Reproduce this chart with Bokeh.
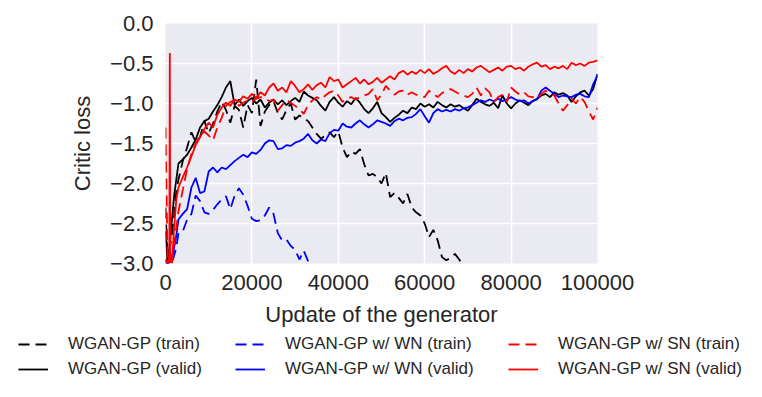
from bokeh.plotting import figure
from bokeh.layouts import column
from bokeh.models import Legend, LegendItem, FixedTicker, Range1d
from bokeh.embed import file_html
from bokeh.resources import INLINE

# ---------------- data ----------------
x_early = [0, 500, 1000, 1500, 2000, 2500, 3000]
x_early_sn_valid = [0, 500, 900, 1000, 1100, 1500, 2000, 2500, 3000]
x_main = list(range(4000, 100001, 1000))

wgan_train_early = [-2.3, -3.0, -2.8, -2.63, -2.4, -2.1, -1.95]
wgan_train_main = [
    -1.72, -1.55, -1.36, -1.48, -1.42, -1.22, -1.37, -1.25, -1.10, -0.98,
    -1.08, -1.24, -1.03, -1.08, -1.30, -1.02, -1.12, -0.70, -1.28, -1.10,
    -1.02, -0.97, -1.12, -1.20, -1.08, -1.00, -1.20, -1.15, -1.18, -1.22,
    -1.30, -1.38, -1.44, -1.40, -1.36, -1.42, -1.35, -1.55, -1.67, -1.60,
    -1.63, -1.57, -1.76, -1.90, -1.88, -1.92, -2.00, -1.87, -2.17, -2.12,
    -2.18, -2.25, -2.13, -2.30, -2.36, -2.40, -2.50, -2.67, -2.58, -2.71,
    -2.92, -2.96, -2.93, -2.88, -2.95, -3.05, -3.15, -3.20, -3.25]

wgan_valid_early = [-2.6, -3.0, -2.75, -2.45, -2.15, -1.95, -1.75]
wgan_valid_main = [
    -1.70, -1.64, -1.55, -1.45, -1.30, -1.22, -1.19, -1.10, -1.02, -0.92,
    -0.80, -0.72, -1.02, -0.95, -1.03, -0.97, -0.93, -1.00, -0.95, -1.05,
    -0.99, -0.95, -1.01, -0.96, -1.02, -0.97, -0.93, -0.98, -0.85, -0.90,
    -0.93, -0.96, -1.03, -1.09, -0.98, -0.92, -0.99, -1.04, -0.97, -1.01,
    -0.93, -0.99, -1.07, -1.12, -1.06, -0.98, -1.12, -1.17, -1.23, -1.18,
    -1.14, -1.09, -1.12, -1.05, -1.07, -1.00, -1.04, -1.01, -1.05, -0.98,
    -1.02, -1.05, -1.01, -1.04, -1.02, -1.06, -1.09, -1.02, -0.94, -0.98,
    -1.01, -1.03, -0.99, -1.06, -0.90, -1.00, -1.06, -1.00, -0.96, -0.99,
    -1.02, -0.97, -0.94, -0.90, -0.88, -0.92, -0.86, -0.89, -0.87, -0.90,
    -0.98, -0.91, -0.86, -0.84, -0.90, -0.82, -0.63]

wn_train_early = [-2.95, -3.05, -3.0, -2.98, -2.9, -2.8, -2.62]
wn_train_main = [
    -2.60, -2.45, -2.38, -2.15, -2.22, -2.36, -2.38, -2.33, -2.26, -2.20,
    -2.16, -2.32, -2.15, -2.06, -2.14, -2.28, -2.44, -2.47, -2.46, -2.40,
    -2.30, -2.38, -2.62, -2.71, -2.70, -2.78, -2.83, -2.95, -2.84, -2.97,
    -3.10, -3.20]

wn_valid_early = [-3.0, -3.02, -2.98, -2.95, -2.8, -2.65, -2.45]
wn_valid_main = [
    -2.38, -2.32, -2.05, -1.93, -2.12, -2.10, -1.85, -1.80, -1.86, -1.80,
    -1.82, -1.77, -1.72, -1.68, -1.64, -1.67, -1.61, -1.63, -1.58, -1.50,
    -1.46, -1.47, -1.57, -1.56, -1.52, -1.53, -1.49, -1.47, -1.44, -1.38,
    -1.46, -1.50, -1.45, -1.47, -1.37, -1.33, -1.34, -1.25, -1.29, -1.30,
    -1.25, -1.21, -1.26, -1.30, -1.26, -1.21, -1.23, -1.25, -1.28, -1.22,
    -1.19, -1.21, -1.18, -1.17, -1.13, -1.07, -1.16, -1.24, -1.12, -1.07,
    -1.10, -1.08, -1.10, -1.07, -1.09, -1.06, -1.05, -1.02, -0.99, -0.96,
    -0.98, -0.95, -0.97, -0.94, -0.97, -0.95, -0.92, -0.95, -0.97, -0.96,
    -1.00, -0.97, -0.95, -0.84, -0.80, -0.84, -0.88, -0.92, -0.90, -0.91,
    -0.92, -0.89, -0.88, -0.91, -0.92, -0.76, -0.65]

sn_train_early = [-1.30, -3.0, -2.95, -2.9, -2.75, -2.55, -2.35]
sn_train_main = [
    -2.08, -1.82, -1.63, -1.50, -1.40, -1.35, -1.40, -1.46, -1.30, -1.18,
    -1.03, -0.98, -0.96, -1.03, -0.99, -0.96, -0.98, -0.94, -0.92, -0.93,
    -0.97, -0.95, -1.09, -1.02, -0.96, -0.99, -1.03, -1.07, -1.13, -1.02,
    -0.96, -0.92, -0.95, -0.90, -0.86, -0.84, -0.90, -0.98, -0.94, -0.92,
    -0.95, -0.92, -0.90, -0.88, -0.82, -0.96, -0.89, -0.78, -0.84, -0.89,
    -0.85, -0.84, -0.89, -0.86, -0.89, -0.91, -0.92, -0.84, -0.88, -0.92,
    -0.87, -0.84, -0.82, -0.85, -0.88, -0.90, -0.92, -0.88, -0.80, -0.90,
    -0.81, -0.86, -0.98, -0.92, -0.89, -0.98, -0.80, -0.85, -0.89, -0.86,
    -0.91, -0.92, -0.94, -0.88, -0.84, -0.87, -0.90, -1.00, -1.09, -1.02,
    -0.94, -1.00, -0.92, -0.98, -1.10, -1.20, -1.05]

sn_valid_early = [-2.95, -3.0, -2.9, -0.37, -2.95, -3.0, -2.55, -2.2, -2.05]
sn_valid_main = [
    -1.92, -1.80, -1.66, -1.52, -1.42, -1.32, -1.24, -1.30, -1.14, -1.05,
    -0.99, -1.03, -0.95, -0.98, -0.91, -0.94, -0.88, -0.93, -0.86, -0.90,
    -0.80, -0.75, -0.84, -0.80, -0.86, -0.72, -0.78, -0.86, -0.82, -0.76,
    -0.83, -0.77, -0.74, -0.80, -0.67, -0.72, -0.70, -0.80, -0.76, -0.72,
    -0.68, -0.75, -0.70, -0.76, -0.73, -0.68, -0.74, -0.70, -0.66, -0.70,
    -0.62, -0.59, -0.64, -0.60, -0.63, -0.58, -0.62, -0.57, -0.63, -0.60,
    -0.56, -0.53, -0.60, -0.63, -0.58, -0.62, -0.57, -0.60, -0.55, -0.53,
    -0.57, -0.61, -0.58, -0.55, -0.59, -0.54, -0.53, -0.57, -0.55, -0.59,
    -0.54, -0.51, -0.49, -0.54, -0.52, -0.57, -0.54, -0.56, -0.53, -0.57,
    -0.49, -0.52, -0.50, -0.53, -0.49, -0.48, -0.46]

series_labels = ["WGAN-GP (train)", "WGAN-GP (valid)",
                 "WGAN-GP w/ WN (train)", "WGAN-GP w/ WN (valid)",
                 "WGAN-GP w/ SN (train)", "WGAN-GP w/ SN (valid)"]

y_ticks = [0.0, -0.5, -1.0, -1.5, -2.0, -2.5, -3.0]
y_tick_labels = ["0.0", "\u22120.5", "\u22121.0", "\u22121.5", "\u22122.0", "\u22122.5", "\u22123.0"]
x_ticks = [0, 20000, 40000, 60000, 80000, 100000]
x_tick_labels = ["0", "20000", "40000", "60000", "80000", "100000"]

# ---------------- main figure ----------------
FONT = "Liberation Sans"
TXT = "#262626"

p = figure(width=762, height=334, x_range=Range1d(0, 100000), y_range=Range1d(-3.0, 0.0),
           output_backend="svg", toolbar_location=None,
           min_border_left=165, min_border_right=165, min_border_top=23, min_border_bottom=71)
p.frame_align = False
p.background_fill_color = "#EAEAF2"
p.border_fill_color = "white"
p.outline_line_color = None

p.xaxis.ticker = FixedTicker(ticks=x_ticks)
p.yaxis.ticker = FixedTicker(ticks=y_ticks)
p.xaxis.major_label_overrides = {t: l for t, l in zip(x_ticks, x_tick_labels)}
p.yaxis.major_label_overrides = {t: l for t, l in zip(y_ticks, y_tick_labels)}

p.grid.grid_line_color = "white"
p.grid.grid_line_width = 1.6

for ax in (p.xaxis[0], p.yaxis[0]):
    ax.axis_line_color = None
    ax.major_tick_line_color = None
    ax.minor_tick_line_color = None
    ax.major_tick_in = 0
    ax.major_tick_out = 0
    ax.major_label_text_font = FONT
    ax.major_label_text_font_size = "22px"
    ax.major_label_text_color = TXT
    ax.axis_label_text_font = FONT
    ax.axis_label_text_font_size = "22px"
    ax.axis_label_text_font_style = "normal"
    ax.axis_label_text_color = TXT

p.xaxis.axis_label = "Update of the generator"
p.yaxis.axis_label = "Critic loss"
p.xaxis.major_label_standoff = 11
p.xaxis.axis_label_standoff = 9
p.yaxis.major_label_standoff = 12
p.yaxis.axis_label_standoff = 12

LW = 1.8
DASH = "11 6"

specs = [
    (x_early, wgan_train_early, wgan_train_main, "black", DASH),
    (x_early, wgan_valid_early, wgan_valid_main, "black", "solid"),
    (x_early, wn_train_early, wn_train_main, "blue", DASH),
    (x_early, wn_valid_early, wn_valid_main, "blue", "solid"),
    (x_early, sn_train_early, sn_train_main, "red", DASH),
    (x_early_sn_valid, sn_valid_early, sn_valid_main, "red", "solid"),
]

# ---------------- legend strip (same series, out of its view range) ----------------
q = figure(width=762, height=63, x_range=Range1d(0, 100000), y_range=Range1d(0.0, 1.0),
           output_backend="svg", toolbar_location=None,
           x_axis_location=None, y_axis_location=None, min_border=0)
q.frame_align = False
q.outline_line_color = None
q.background_fill_color = "white"
q.border_fill_color = "white"
q.xgrid.visible = False
q.ygrid.visible = False

rq = []
for ex, ey, my, col, dash in specs:
    xx = ex + x_main[:len(my)]
    yy = ey + my
    p.line(xx, yy, line_color=col, line_width=LW, line_dash=dash)
    rq.append(q.line(xx, yy, line_color=col, line_width=LW, line_dash=dash))

def make_legend(i, loc):
    leg = Legend(items=[LegendItem(label=series_labels[i], renderers=[rq[i]]),
                        LegendItem(label=series_labels[i + 1], renderers=[rq[i + 1]])],
                 location=loc, orientation="vertical",
                 glyph_width=30, glyph_height=20, label_standoff=20, spacing=5,
                 padding=0, margin=0,
                 label_text_font=FONT, label_text_font_size="17px", label_text_color=TXT,
                 background_fill_alpha=0, border_line_color=None)
    q.add_layout(leg)

make_legend(0, (18, 18))
make_legend(2, (235, 18))
make_legend(4, (508, 18))

layout = column(p, q, spacing=0)
open("out.html", "w").write(file_html(layout, INLINE))
